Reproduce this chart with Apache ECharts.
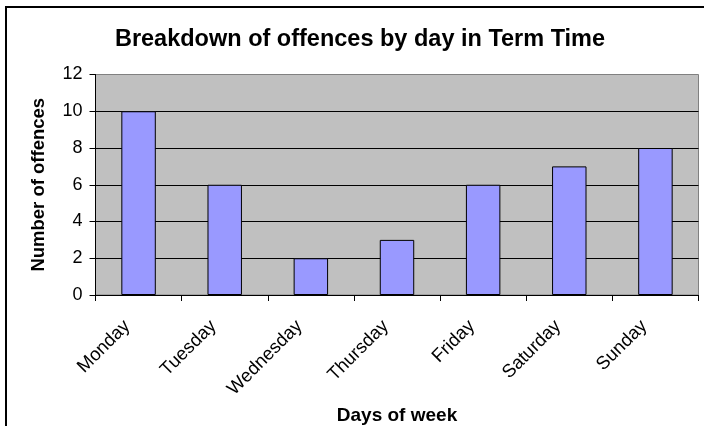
<!DOCTYPE html>
<html>
<head>
<meta charset="utf-8">
<script src="https://cdn.jsdelivr.net/npm/echarts@6/dist/echarts.min.js"></script>
<style>
  html, body { margin: 0; padding: 0; background: #fff; }
  #chart { width: 704px; height: 426px; }
</style>
</head>
<body>
<div id="chart"></div>
<script>
// Offences recorded per weekday during term time
const days = ['Monday', 'Tuesday', 'Wednesday', 'Thursday', 'Friday', 'Saturday', 'Sunday'];
const offences = [10, 6, 2, 3, 6, 7, 8];
const yTicks = [0, 2, 4, 6, 8, 10, 12];

const font = 'Arial, "Liberation Sans", sans-serif';
const chart = echarts.init(document.getElementById('chart'), null, { renderer: 'canvas' });

chart.setOption({
  animation: false,
  backgroundColor: '#ffffff',
  title: {
    text: 'Breakdown of offences by day in Term Time',
    left: 355,
    textAlign: 'center',
    top: 23,
    textStyle: { fontFamily: font, fontSize: 23.5, fontWeight: 'bold', color: '#000' }
  },
  graphic: [{
    type: 'rect',
    shape: { x: 6, y: 7, width: 720, height: 440 },
    style: { fill: 'none', stroke: '#000', lineWidth: 2 },
    silent: true
  }],
  grid: {
    left: 95.5, right: 5.5, top: 74.5, bottom: 131,
    outerBoundsMode: 'none',
    containLabel: false,
    show: true,
    backgroundColor: '#C0C0C0',
    borderColor: '#808080',
    borderWidth: 1
  },
  xAxis: {
    type: 'category',
    data: days,
    name: 'Days of week',
    nameLocation: 'middle',
    nameGap: 106,
    nameTextStyle: { fontFamily: font, fontSize: 19, fontWeight: 'bold', color: '#000' },
    axisLine: { lineStyle: { color: '#000', width: 1 } },
    axisTick: { show: true, length: 6, alignWithLabel: false, lineStyle: { color: '#000' } },
    axisLabel: { rotate: 45, margin: 17, padding: [0, 16, 0, 0], fontFamily: font, fontSize: 18.5, color: '#000' },
    splitLine: { show: false }
  },
  yAxis: {
    type: 'value',
    min: yTicks[0],
    max: yTicks[yTicks.length - 1],
    interval: yTicks[1] - yTicks[0],
    name: 'Number of offences',
    nameLocation: 'middle',
    nameRotate: 90,
    nameGap: 47,
    nameTextStyle: { fontFamily: font, fontSize: 18.5, fontWeight: 'bold', color: '#000' },
    axisLine: { show: true, lineStyle: { color: '#000', width: 1 } },
    axisTick: { show: true, length: 6, lineStyle: { color: '#000' } },
    axisLabel: { margin: 13, fontFamily: font, fontSize: 18, color: '#000' },
    splitLine: { show: true, showMinLine: false, showMaxLine: false, lineStyle: { color: '#000', width: 1 } }
  },
  series: [{
    type: 'bar',
    data: offences,
    barWidth: '40%',
    itemStyle: { color: '#9999FF', borderColor: '#000', borderWidth: 1 }
  }]
});
</script>
</body>
</html>
